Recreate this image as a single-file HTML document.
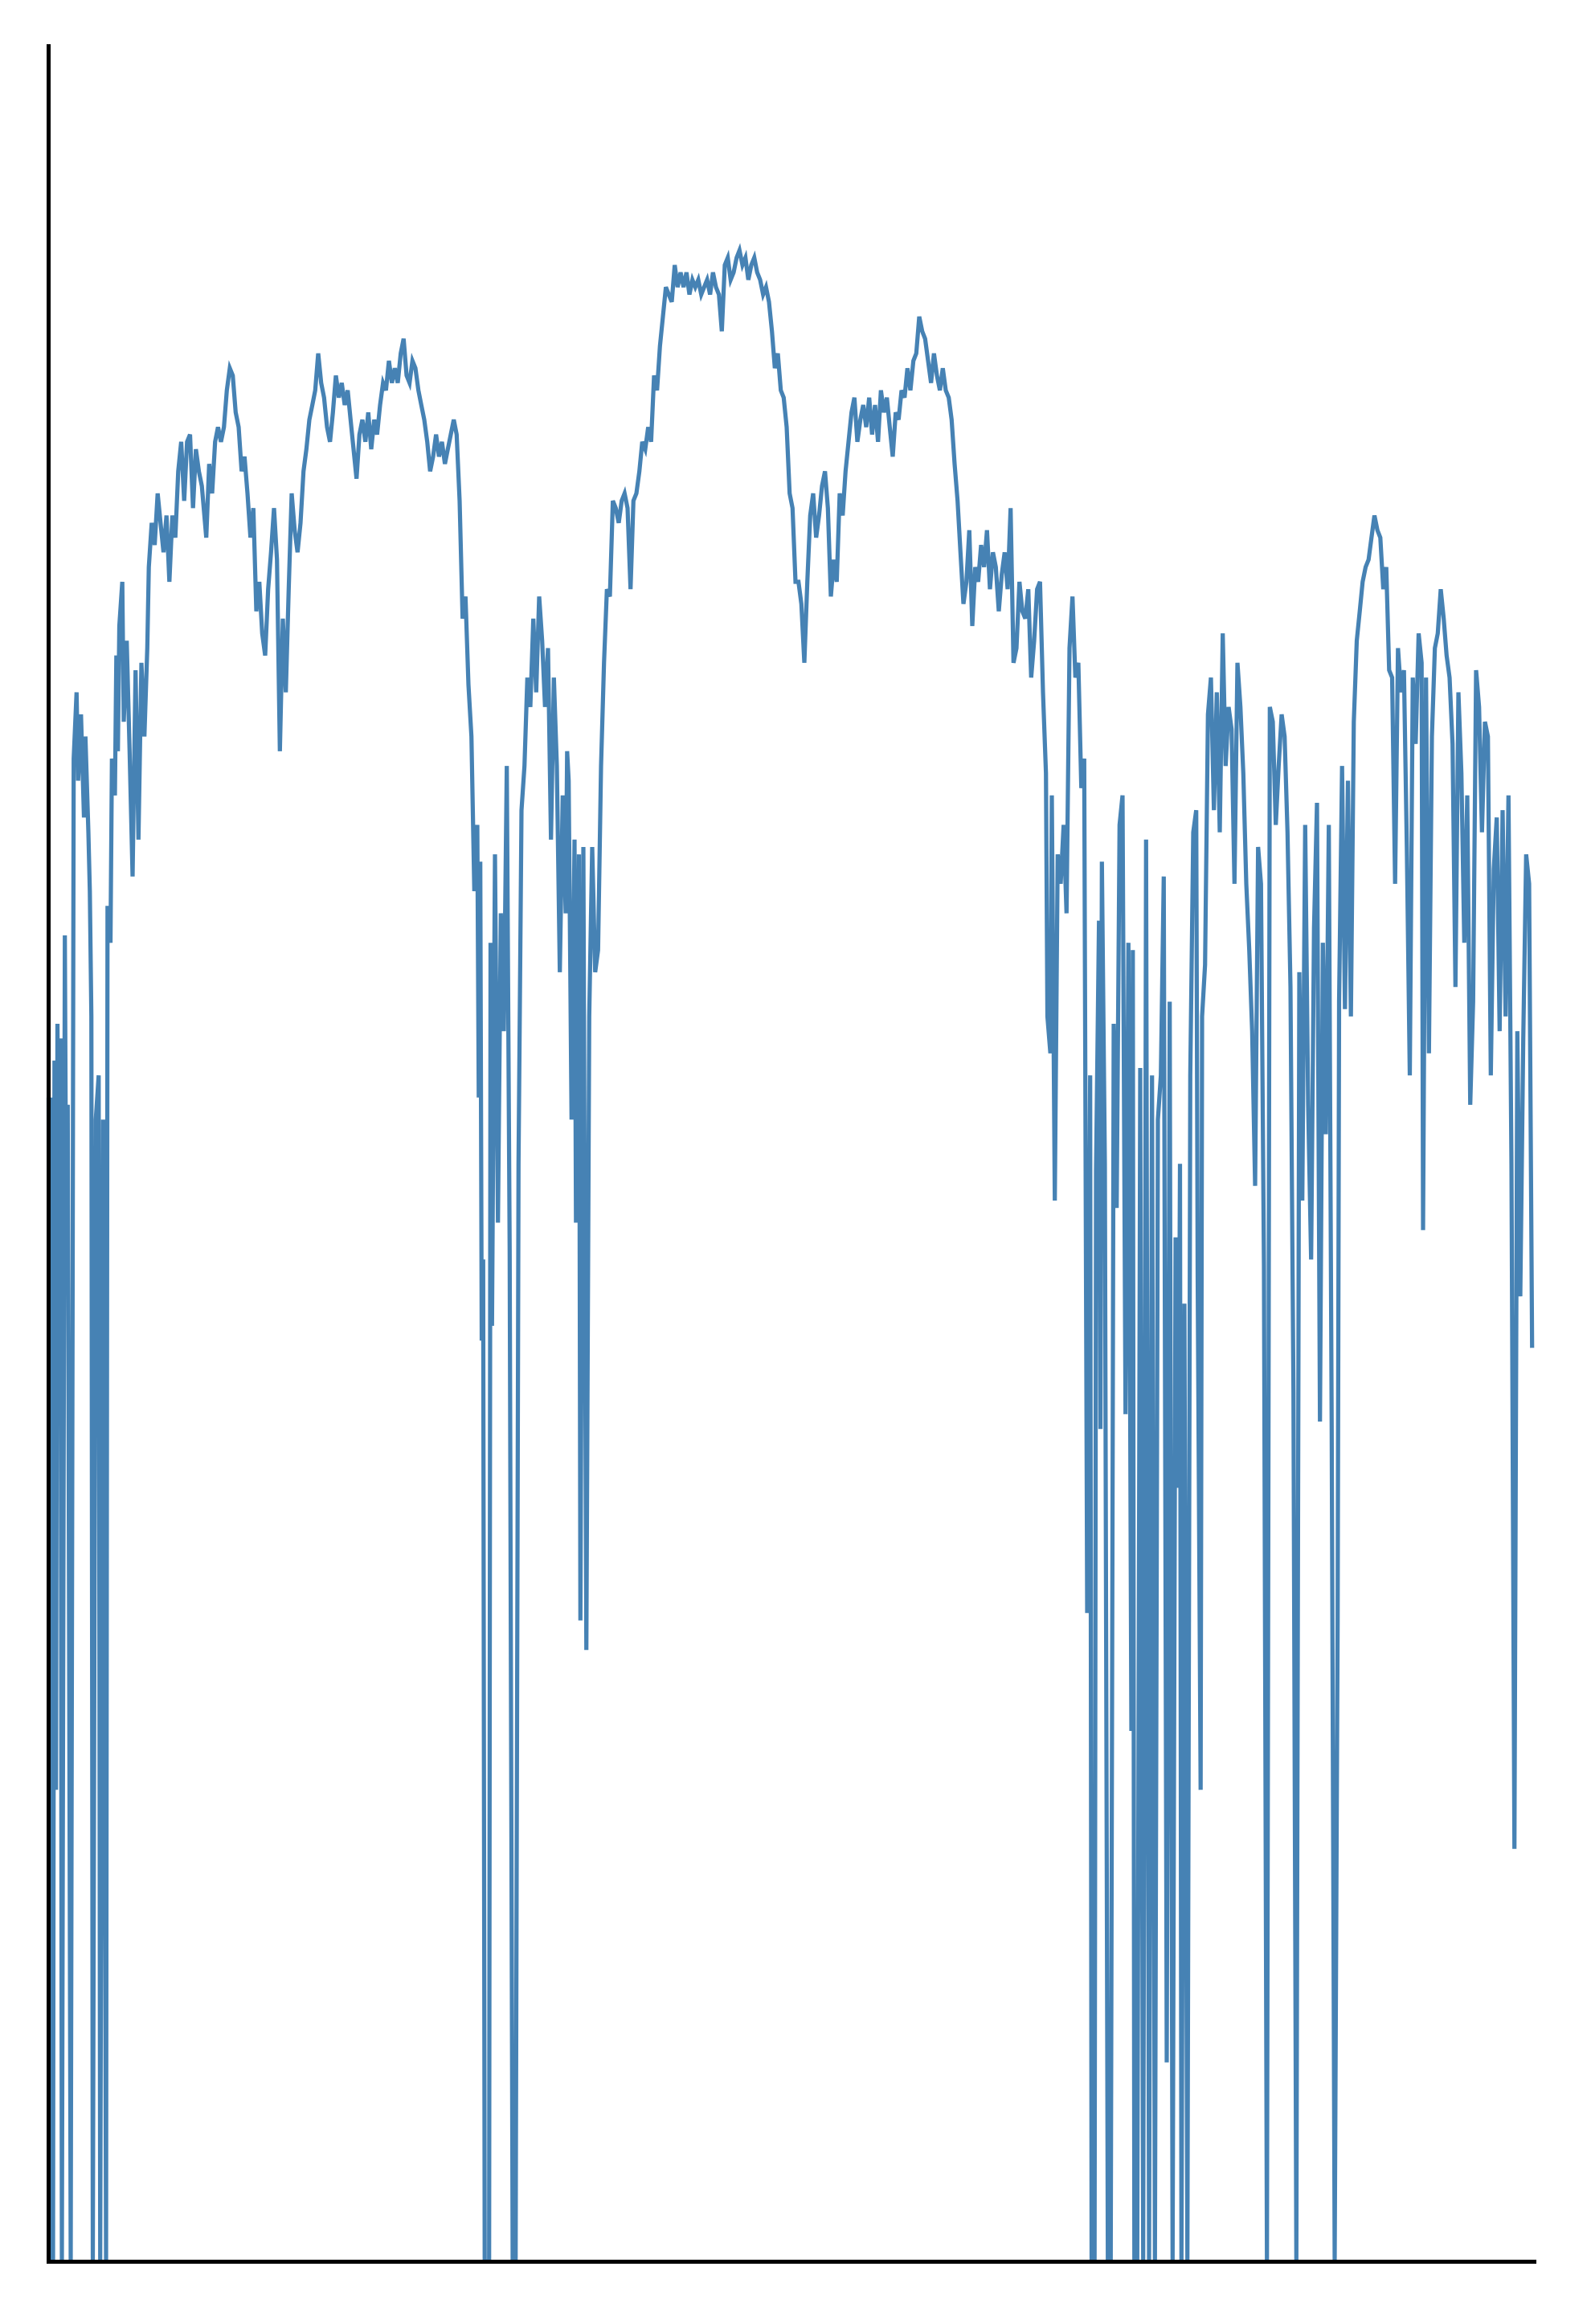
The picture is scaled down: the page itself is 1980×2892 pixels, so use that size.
<!DOCTYPE html>
<html><head><meta charset="utf-8"><style>
html,body{margin:0;padding:0;background:#fff;}
svg{display:block;}
</style></head><body>
<svg id="chart" width="1980" height="2892" viewBox="0 0 1980 2892" xmlns="http://www.w3.org/2000/svg">
<rect x="0" y="0" width="1980" height="2892" fill="#fff"/>
<g id="plot"></g>
<line x1="60.5" y1="55" x2="60.5" y2="2817" stroke="#000" stroke-width="5"/>
<line x1="58" y1="2814.5" x2="1912" y2="2814.5" stroke="#000" stroke-width="5"/>
</svg>
<script>
const times = [33,34,35,36,37,38,39,40,41,42,44,45,46,48,50,52,53,55,57,58,60,61,62,63,65,67,68,70,72,73,75,76,78,79,80,81,83,84,86,88,90,92,94,96,98,100,101,103,105,107,109,111,113,115,117,119,121,123,125,127,129,131,133,135,137,140,142,144,146,148,150,152,154,156,158,160,162,164,166,168,170,172,174,176,178,180,182,184,186,188,190,192,194,196,198,200,202,204,206,208,210,212,214,216,218,220,222,224,226,228,230,232,234,236,238,240,242,244,246,248,250,252,254,256,258,260,262,264,266,268,270,272,274,276,278,280,282,284,286,288,290,292,294,296,298,300,302,304,306,308,310,312,314,316,318,320,322,324,325,326,327,328,329,332,333,334,336,338,340,342,344,346,348,350,352,354,356,358,360,362,364,366,368,370,372,374,376,378,380,382,384,385,386,388,390,391,393,394,396,398,400,402,404,406,408,410,412,414,416,418,420,422,424,426,428,430,432,434,436,438,440,442,444,446,448,450,452,454,456,458,460,462,464,466,468,470,472,474,476,478,480,482,484,486,488,490,492,494,496,498,500,502,504,506,508,510,512,514,516,518,520,522,524,526,528,530,532,534,536,538,540,542,544,546,548,550,552,554,556,558,560,562,564,566,568,570,572,574,576,578,580,582,584,586,588,590,592,594,596,598,600,602,604,606,608,610,612,614,616,618,620,622,624,626,628,630,632,634,636,638,640,642,644,646,648,650,652,654,656,658,660,662,664,666,668,670,672,674,676,678,680,682,684,686,688,690,692,694,696,698,700,702,704,706,708,710,711,713,714,716,718,720,722,724,726,728,730,732,734,736,738,740,741,743,744,746,747,748,750,752,754,756,758,760,762,764,766,768,769,770,772,774,776,778,780,782,784,786,788,790,792,794,796,798,800,801,802,804,806,808,810,812,813,815,816,818,820,822,824,826,828,830,832,834,836,838,840,842,844,846,848,850,852,854,856,858,860,862,864,866,868,870,872,874,876,878,880,882,884,886,888,890,892,894,896,898,900,902,904,906,908,909,911,913,915,917,919,921,923,925,927,929,931,933,935,937,939,941,943,945,947,949,951,953,955,957,959,961,963,965,966,968,970,972,974,976,978,980,982,984,986,988,990,992,994,996,998,1000,1002,1004,1006,1008,1010,1012,1014,1016,1018,1020,1022,1024,1026,1028,1030,1032,1034,1036,1038,1040];
const values = [790,0,790,0,815,320,840,680,830,0,900,680,785,0,1020,1065,1005,1050,980,1035,970,930,845,0,775,805,0,775,0,920,895,1020,995,1090,1025,1110,1140,1045,1100,1025,940,1080,965,1085,1035,1095,1150,1180,1165,1200,1180,1160,1185,1140,1185,1170,1215,1235,1195,1235,1240,1190,1230,1215,1205,1170,1220,1200,1235,1245,1235,1245,1270,1285,1280,1255,1245,1215,1225,1200,1170,1190,1120,1140,1105,1090,1135,1160,1190,1155,1025,1115,1065,1135,1200,1175,1160,1180,1215,1230,1250,1260,1270,1295,1275,1265,1245,1235,1255,1280,1265,1275,1260,1270,1250,1230,1210,1240,1250,1235,1255,1230,1250,1240,1260,1275,1270,1290,1275,1285,1275,1295,1305,1280,1275,1290,1285,1270,1260,1250,1235,1215,1225,1240,1225,1235,1220,1230,1240,1250,1240,1195,1115,1130,1070,1035,930,975,790,950,625,680,0,0,895,635,955,705,915,835,1015,685,0,0,745,985,1015,1075,1055,1115,1065,1130,1100,1055,1095,965,1075,1015,875,995,915,1025,1005,775,965,705,955,435,960,415,845,960,875,890,1015,1085,1135,1130,1195,1190,1180,1195,1200,1190,1135,1195,1200,1215,1235,1230,1245,1235,1280,1270,1300,1320,1340,1335,1330,1355,1340,1350,1340,1350,1335,1345,1340,1345,1335,1340,1345,1335,1350,1340,1335,1310,1355,1360,1345,1350,1360,1365,1355,1360,1345,1355,1360,1350,1345,1335,1340,1330,1310,1285,1295,1270,1265,1245,1200,1190,1140,1140,1125,1085,1140,1185,1200,1170,1185,1205,1215,1190,1130,1155,1140,1200,1185,1215,1235,1255,1265,1235,1250,1260,1245,1265,1240,1260,1235,1270,1255,1265,1245,1225,1255,1250,1270,1265,1285,1270,1290,1295,1320,1310,1305,1290,1275,1295,1280,1270,1285,1270,1265,1250,1220,1195,1160,1125,1140,1175,1110,1150,1140,1165,1150,1175,1135,1160,1150,1120,1145,1160,1135,1190,1085,1095,1140,1120,1115,1135,1075,1100,1135,1140,1065,1010,845,820,995,720,955,935,975,915,1095,1130,1075,1085,1000,1020,440,805,0,0,740,910,565,950,745,0,0,840,715,975,995,575,895,360,890,0,0,810,0,965,0,805,0,775,805,940,135,855,0,695,525,745,0,650,0,805,970,985,670,320,845,880,1050,1075,985,1065,970,1105,1015,1055,1040,935,1085,1055,1010,935,890,835,730,960,935,675,0,1055,1045,975,1015,1050,1035,970,865,590,0,875,720,975,785,680,905,990,570,895,765,975,565,0,435,855,1015,850,1005,845,1045,1100,1120,1140,1150,1155,1170,1185,1175,1170,1135,1150,1080,1075,935,1095,1065,1080,960,805,1075,1030,1105,1085,700,1075,820,1035,1095,1105,1135,1115,1090,1075,1030,865,1065,1010,895,995,785,855,1080,1055,970,1045,1035,805,945,980,835,985,845,995,745,280,835,655,830,955,935,620];

const S = 1980 / 1080;
function xScale(t) { return 60.5 + (t - 33) * S; }
function yScale(v) { return 2814 - v * S; }

const plot = document.getElementById('plot');
let d = '';
for (let i = 0; i < times.length; i++) {
  d += (i ? 'L' : 'M') + xScale(times[i]).toFixed(1) + ' ' + yScale(values[i]).toFixed(1);
}
const path = document.createElementNS('http://www.w3.org/2000/svg', 'path');
path.setAttribute('d', d);
path.setAttribute('fill', 'none');
path.setAttribute('stroke', '#4682b4');
path.setAttribute('stroke-width', '5.2');
path.setAttribute('stroke-linejoin', 'miter');


plot.appendChild(path);
</script>
</body></html>
